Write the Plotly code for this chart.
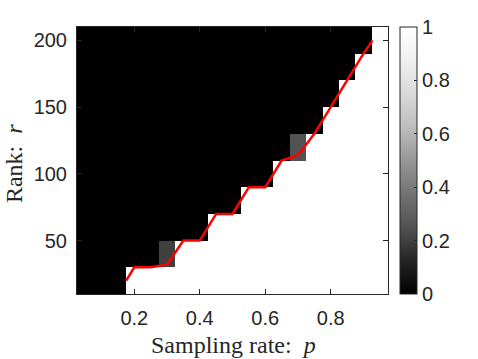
import plotly.graph_objects as go

# sampling rates (columns) and ranks (rows)
p_vals = [0.05, 0.10, 0.15, 0.20, 0.25, 0.30, 0.35, 0.40, 0.45, 0.50,
          0.55, 0.60, 0.65, 0.70, 0.75, 0.80, 0.85, 0.90, 0.95]
r_vals = [20, 40, 60, 80, 100, 120, 140, 160, 180, 200]

# recovery rate, one row per rank
success = [
    [0, 0, 0, 1, 1, 1, 1, 1, 1, 1, 1, 1, 1, 1, 1, 1, 1, 1, 1],
    [0, 0, 0, 0, 0, 0.2, 1, 1, 1, 1, 1, 1, 1, 1, 1, 1, 1, 1, 1],
    [0, 0, 0, 0, 0, 0, 0, 0, 1, 1, 1, 1, 1, 1, 1, 1, 1, 1, 1],
    [0, 0, 0, 0, 0, 0, 0, 0, 0, 0, 1, 1, 1, 1, 1, 1, 1, 1, 1],
    [0, 0, 0, 0, 0, 0, 0, 0, 0, 0, 0, 0, 1, 1, 1, 1, 1, 1, 1],
    [0, 0, 0, 0, 0, 0, 0, 0, 0, 0, 0, 0, 0, 0.25, 1, 1, 1, 1, 1],
    [0, 0, 0, 0, 0, 0, 0, 0, 0, 0, 0, 0, 0, 0, 0, 1, 1, 1, 1],
    [0, 0, 0, 0, 0, 0, 0, 0, 0, 0, 0, 0, 0, 0, 0, 0, 1, 1, 1],
    [0, 0, 0, 0, 0, 0, 0, 0, 0, 0, 0, 0, 0, 0, 0, 0, 0, 1, 1],
    [0, 0, 0, 0, 0, 0, 0, 0, 0, 0, 0, 0, 0, 0, 0, 0, 0, 0, 1],
]

# red boundary curve
curve_p = [0.175, 0.20, 0.25, 0.30, 0.35, 0.40, 0.45, 0.50, 0.55, 0.60,
           0.65, 0.70, 0.75, 0.80, 0.85, 0.90, 0.928]
curve_r = [20, 30, 30, 32, 50, 50, 70, 70, 90, 90,
           110, 114, 130, 150, 170, 190, 200]

frame = "#262626"
tick_font = dict(family="Liberation Sans, Arial", size=20, color=frame)
label_font = dict(family="Liberation Serif, DejaVu Serif", size=24, color=frame)

fig = go.Figure()
fig.add_trace(go.Heatmap(
    x=p_vals, y=r_vals, z=success,
    colorscale="Greys", reversescale=True, zmin=0, zmax=1,
    colorbar=dict(
        x=1.029, xanchor="left", y=0.5, yanchor="middle",
        len=1, lenmode="fraction", thickness=17,
        outlinecolor=frame, outlinewidth=1,
        ticks="inside", ticklen=3, tickcolor=frame,
        tickvals=[0, 0.2, 0.4, 0.6, 0.8, 1],
        ticktext=["0", "0.2", "0.4", "0.6", "0.8", "1"],
        tickfont=tick_font, xpad=3, ypad=0,
    ),
))
fig.add_trace(go.Scatter(
    x=curve_p, y=curve_r, mode="lines",
    line=dict(color="#ff0000", width=2.5), showlegend=False,
))

fig.update_xaxes(
    range=[0.025, 0.975], tickvals=[0.2, 0.4, 0.6, 0.8],
    ticks="inside", ticklen=5, tickcolor=frame, tickfont=tick_font,
    ticklabelstandoff=6,
    showline=True, linecolor=frame, linewidth=1, mirror="ticks",
    showgrid=False, zeroline=False, automargin=False,
)
fig.update_yaxes(
    range=[10, 210], tickvals=[50, 100, 150, 200],
    ticks="inside", ticklen=5, tickcolor=frame, tickfont=tick_font,
    ticklabelstandoff=5,
    showline=True, linecolor=frame, linewidth=1, mirror="ticks",
    showgrid=False, zeroline=False, automargin=False,
)

# axis titles placed as annotations for exact positioning
fig.add_annotation(
    text="Sampling rate:  <i>p</i>", font=label_font, showarrow=False,
    xref="paper", yref="paper", x=0.502, y=-0.19,
    xanchor="center", yanchor="middle",
)
fig.add_annotation(
    text="Rank:  <i>r</i>", font=label_font, showarrow=False, textangle=-90,
    xref="paper", yref="paper", x=-0.203, y=0.49,
    xanchor="center", yanchor="middle",
)

fig.update_layout(
    width=478, height=359,
    margin=dict(l=77, r=90, t=27, b=65),
    paper_bgcolor="white", plot_bgcolor="white",
    showlegend=False,
)
# drop the default 8 px page margin so the figure fills the window
fig.write_html(
    "out.html",
    config={"displayModeBar": False},
    post_script="document.body.style.margin='0';",
)
